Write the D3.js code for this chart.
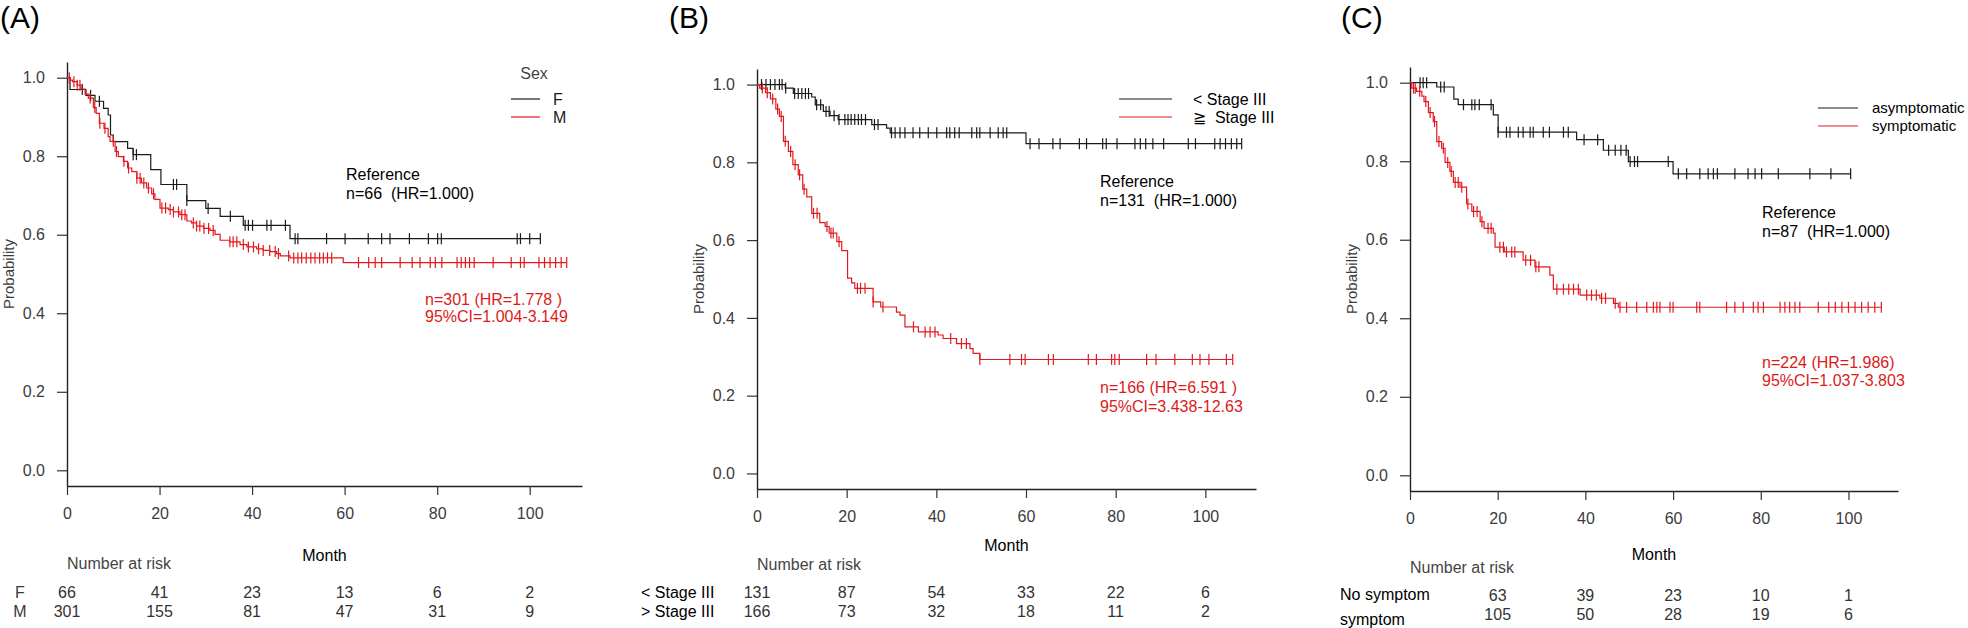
<!DOCTYPE html>
<html><head><meta charset="utf-8">
<script src="https://cdn.jsdelivr.net/npm/d3@7"></script>
<style>
body{margin:0;background:#fff}
svg text{font-family:"Liberation Sans",Arial,sans-serif}
</style></head><body>
<svg id="chart" width="1968" height="628"></svg>
<script>
// axis ticks
const monthTicks = [0, 20, 40, 60, 80, 100];
const probTicks = [0, 0.2, 0.4, 0.6, 0.8, 1.0];

// (A) Sex: step times (month), survival after step, censor times
const aF_time = [0, 0.65, 4.1, 6.05, 7.9, 8.9, 9.4, 10.0, 13.1, 14.3, 18.1, 20.3, 25.9, 30.0, 33.1, 38.1, 48.2];
const aF_surv = [1, 0.970, 0.955, 0.940, 0.922, 0.905, 0.854, 0.837, 0.820, 0.804, 0.766, 0.728, 0.687, 0.667, 0.647, 0.624, 0.590];
const aF_cens = [3.3, 5.1, 7, 14.3, 15, 23, 23.7, 25.9, 30.5, 35.3, 38.5, 39.2, 40.1, 43.2, 44.1, 47.2, 49.3, 49.9, 56.1, 60.1, 65.1, 68, 69.8, 74, 78.1, 80.1, 80.9, 97.3, 98, 100, 102.3];
const aM_time = [0, 0.7, 1.2, 2.2, 3.0, 3.9, 4.6, 5.7, 6.3, 7.0, 8.0, 8.9, 9.3, 10.4, 11.1, 12.2, 13.1, 14.0, 15.1, 16.1, 17.2, 18.3, 19.0,
  20.1, 21.9, 23.0, 24.4, 25.9, 26.9, 28.0, 29.5, 30.9, 32.0, 33.1, 35.2, 37.4, 38.9, 41.0, 42.4, 43.9, 45.3, 46.1, 48.2, 59.7];
const aM_surv = [1, 0.994, 0.990, 0.981, 0.971, 0.958, 0.948, 0.924, 0.909, 0.884, 0.871, 0.850, 0.838, 0.812, 0.799, 0.787, 0.770, 0.761, 0.744, 0.732, 0.719, 0.704, 0.690,
  0.668, 0.664, 0.658, 0.651, 0.635, 0.630, 0.622, 0.616, 0.611, 0.601, 0.586, 0.582, 0.575, 0.569, 0.564, 0.560, 0.557, 0.552, 0.546, 0.541, 0.529];
const aM_cens = [0.5, 1.5, 2.2, 2.8, 5, 6, 7.1, 8.2, 10, 10.7, 12.3, 13.3, 15.1, 15.8, 16.6, 17.6, 18.7, 20.5, 21.3, 22.3, 23, 24.1, 24.8, 25.5,
  27.3, 28, 28.7, 29.6, 30.6, 31.6, 35.2, 35.9, 36.7, 38.1, 39.2, 40.3, 41.4, 42.4, 43.8, 45, 45.7, 47.9, 49, 49.9, 50.7, 51.7, 52.7, 53.6,
  54.6, 55.4, 56.3, 57.2, 63, 65.2, 66.6, 68, 72, 74.6, 76.3, 78.5, 79.6, 81, 84.3, 85.2, 86.1, 87, 88, 92.1, 96, 98, 98.8, 102, 103.2,
  104.4, 105.6, 106.8, 108];
const aRiskTimes = [0, 20, 40, 60, 80, 100];
const aRiskLabels = ["F", "M"];
const aRiskF = [66, 41, 23, 13, 6, 2];
const aRiskM = [301, 155, 81, 47, 31, 9];
const aLegend = ["F", "M"];
const aRefText = ["Reference", "n=66  (HR=1.000)"];
const aHrText = ["n=301 (HR=1.778 )", "95%CI=1.004-3.149"];

// (B) Stage
const bLo_time = [0, 6.3, 8.1, 12.2, 13.0, 14.8, 16.3, 18.1, 25.6, 28.9, 29.7, 60.0];
const bLo_surv = [1, 0.991, 0.977, 0.968, 0.948, 0.931, 0.920, 0.910, 0.897, 0.888, 0.876, 0.848];
const bLo_cens = [1, 2, 3, 4, 5, 5.6, 6.4, 8.4, 9.2, 10, 10.8, 11.5, 13.3, 14.2, 15.4, 16.1, 17.2, 18.3, 19.6, 20.3, 21, 21.8, 22.6, 23.3,
  24.2, 26.2, 27, 30, 30.8, 31.9, 33, 34.8, 36.3, 38.2, 40.1, 42.3, 43, 44.1, 45.1, 47.9, 49, 49.7, 52, 53.8, 54.9, 55.7, 60.9, 62.9, 66,
  67.6, 71.9, 73.5, 77.1, 77.9, 80.3, 84.3, 85.5, 86.7, 88.3, 90.7, 96.2, 97.8, 102.1, 103.3, 104.5, 105.8, 107, 108.1];
const bHi_time = [0, 0.6, 1.9, 3.0, 4.2, 5.0, 5.9, 7.0, 8.0, 9.2, 10.2, 11.1, 12.2, 14.0, 15.2, 16.1, 17.8, 18.9, 20.2, 21.1, 21.8,
  25.9, 27.6, 31.1, 31.9, 33.0, 36.0, 40.4, 41.5, 44.5, 47.5, 48.2, 49.7];
const bHi_surv = [1, 0.991, 0.979, 0.963, 0.937, 0.918, 0.854, 0.828, 0.794, 0.768, 0.731, 0.711, 0.669, 0.645, 0.635, 0.618, 0.596, 0.573, 0.502, 0.490, 0.476,
  0.441, 0.428, 0.415, 0.407, 0.377, 0.364, 0.356, 0.347, 0.334, 0.321, 0.309, 0.293];
const bHi_cens = [1.2, 2.3, 3.5, 4.6, 5.4, 6.3, 7.5, 8.5, 9.5, 10.5, 12.6, 13.4, 15.6, 16.5, 17.0, 18.3, 22.4, 23.1, 24.1, 25.9, 28.1,
  34.9, 37.5, 38.6, 39.7, 43.2, 45.6, 46.7, 49.7, 56.4, 59, 59.8, 65, 66.1, 73.9, 75.7, 79.1, 79.8, 80.8, 86.9, 89, 93.2, 97.1, 98.8,
  100.8, 104.7, 106.1];
const bRiskTimes = [0, 20, 40, 60, 80, 100];
const bRiskLabels = ["< Stage III", "> Stage III"];
const bRiskLo = [131, 87, 54, 33, 22, 6];
const bRiskHi = [166, 73, 32, 18, 11, 2];
const bLegend = ["< Stage III", "\u2267  Stage III"];
const bRefText = ["Reference", "n=131  (HR=1.000)"];
const bHrText = ["n=166 (HR=6.591 )", "95%CI=3.438-12.63"];

// (C) Symptom
const cAs_time = [0, 6.1, 10.0, 11.0, 19.0, 20.1, 38.0, 44.1, 49.8, 60.0];
const cAs_surv = [1, 0.989, 0.958, 0.944, 0.918, 0.874, 0.855, 0.828, 0.799, 0.768];
const cAs_cens = [2.3, 3.0, 3.8, 7.0, 7.8, 12.2, 14.1, 14.8, 15.8, 18.5, 20.1, 22.0, 22.8, 24.7, 25.8, 27.4, 28.1, 30.4, 31.8, 35.0,
  36.1, 39.7, 42.8, 45.3, 46.8, 48.1, 49.3, 50.2, 51.2, 51.9, 58.9, 61.2, 63.1, 66.1, 68.0, 69.2, 70.1, 74.1, 77.1, 78.7, 80.2, 84.0,
  91.2, 96.0, 100.5];
const cSy_time = [0, 0.4, 1.5, 2.7, 3.2, 4.2, 5.3, 6.1, 7.2, 8.0, 9.1, 9.9, 11.4, 12.9, 14.1, 16.0, 16.9, 19.0, 19.4, 21.5, 25.8, 28.5,
  31.9, 32.7, 38.8, 43.3, 46.4, 47.5];
const cSy_surv = [1, 0.986, 0.978, 0.966, 0.952, 0.924, 0.901, 0.850, 0.833, 0.797, 0.774, 0.746, 0.734, 0.691, 0.672, 0.646, 0.629,
  0.617, 0.581, 0.569, 0.548, 0.531, 0.510, 0.474, 0.459, 0.451, 0.438, 0.428];
const cSy_cens = [0.8, 1.2, 2.2, 3.6, 4.6, 5.6, 6.6, 7.6, 8.6, 9.4, 10.3, 11.0, 11.8, 13.2, 14.5, 15.3, 16.4, 17.8, 18.5, 20.5, 21.3,
  22.0, 23.2, 23.9, 26.4, 27.5, 28.7, 29.4, 33.5, 35.0, 36.2, 37.3, 38.4, 40.3, 41.4, 42.5, 43.7, 44.6, 46.8, 47.9, 49.4, 51.7, 54,
  55.5, 56.3, 57, 59.3, 60, 65.4, 66.1, 72.2, 74.1, 76, 78.3, 79.4, 80.6, 84.4, 85.5, 86.6, 87.8, 88.9, 93.1, 95.5, 97, 98.5, 100,
  101.5, 103, 104.5, 106, 107.5];
const cRiskTimes = [20, 40, 60, 80, 100];
const cRiskLabels = ["No symptom", "symptom"];
const cRiskAs = [63, 39, 23, 10, 1];
const cRiskSy = [105, 50, 28, 19, 6];
const cLegend = ["asymptomatic", "symptomatic"];
const cRefText = ["Reference", "n=87  (HR=1.000)"];
const cHrText = ["n=224 (HR=1.986)", "95%CI=1.037-3.803"];

const BLACK = "#1a1a1a", RED = "#e2191f", RED_TXT = "#dc1a1a", GREY = "#3a3a3a";

const svg = d3.select("#chart");

function survAt(time, surv, t){
  const i = d3.bisectRight(time, t) - 1;
  return surv[Math.max(i, 0)];
}

const panels = [
  {title:"(A)", titleX:0, x0:67, x1:582, yTop:62, yBot:486, monthY:561, narY:569,
   curves:[{time:aF_time, surv:aF_surv, cens:aF_cens, color:BLACK},
           {time:aM_time, surv:aM_surv, cens:aM_cens, color:RED}],
   risk:{times:aRiskTimes, rows:[aRiskF, aRiskM], labels:aRiskLabels, rowY:[598, 617], labY:[598, 617],
         labX:20, labAnchor:"middle", labColor:GREY},
   legend:{title:"Sex", titleX:534, titleY:79, lx0:511, lx1:540, ly:[99, 117], tx:553, size:16, labels:aLegend, color:BLACK},
   ref:{x:346, y:[180, 199], text:aRefText}, hr:{x:425, y:[305, 322], text:aHrText}},
  {title:"(B)", titleX:669, x0:757, x1:1256, yTop:69, yBot:489, monthY:551, narY:570,
   curves:[{time:bLo_time, surv:bLo_surv, cens:bLo_cens, color:BLACK},
           {time:bHi_time, surv:bHi_surv, cens:bHi_cens, color:RED}],
   risk:{times:bRiskTimes, rows:[bRiskLo, bRiskHi], labels:bRiskLabels, rowY:[598, 617], labY:[598, 617],
         labX:641, labAnchor:"start", labColor:"#000"},
   legend:{lx0:1119, lx1:1172, ly:[99, 117], tx:1193, size:16, labels:bLegend, color:"#000"},
   ref:{x:1100, y:[187, 206], text:bRefText}, hr:{x:1100, y:[393, 412], text:bHrText}},
  {title:"(C)", titleX:1341, x0:1410, x1:1898, yTop:67, yBot:491, monthY:560, narY:573,
   curves:[{time:cAs_time, surv:cAs_surv, cens:cAs_cens, color:BLACK},
           {time:cSy_time, surv:cSy_surv, cens:cSy_cens, color:RED}],
   risk:{times:cRiskTimes, rows:[cRiskAs, cRiskSy], labels:cRiskLabels, rowY:[601, 620], labY:[600, 625],
         labX:1340, labAnchor:"start", labColor:"#000"},
   legend:{lx0:1818, lx1:1858, ly:[108, 126], tx:1872, size:15, labels:cLegend, color:"#000"},
   ref:{x:1762, y:[218, 237], text:cRefText}, hr:{x:1762, y:[368, 386], text:cHrText}}
];

panels.forEach(p => {
  const x = d3.scaleLinear().domain([0, 111.3]).range([p.x0, p.x1]);
  const y = d3.scaleLinear().domain([-0.04, 1.04]).range([p.yBot, p.yTop]);
  const g = svg.append("g");

  g.append("text").attr("x", p.titleX).attr("y", 28).attr("font-size", 30).attr("fill", "#000").text(p.title);

  // axes
  const xa = g.append("g").attr("transform", `translate(0,${p.yBot})`)
    .call(d3.axisBottom(x).tickValues(monthTicks).tickFormat(d3.format("d")).tickSize(9).tickSizeOuter(0).tickPadding(13));
  const ya = g.append("g").attr("transform", `translate(${p.x0},0)`)
    .call(d3.axisLeft(y).tickValues(probTicks).tickFormat(d3.format(".1f")).tickSize(10).tickSizeOuter(0).tickPadding(12));
  [xa, ya].forEach(a => {
    a.selectAll("path.domain").attr("stroke", "#222").attr("stroke-width", 1.4);
    a.selectAll(".tick line").attr("stroke", "#333").attr("stroke-width", 1.2);
    a.selectAll(".tick text").attr("font-size", 16).attr("fill", "#3c3c3c")
      .attr("font-family", "Liberation Sans, Arial, sans-serif");
  });

  g.append("text").attr("transform", `translate(${p.x0 - 53},${(p.yTop + p.yBot) / 2}) rotate(-90)`)
    .attr("text-anchor", "middle").attr("font-size", 15).attr("fill", "#3c3c3c").text("Probability");
  g.append("text").attr("x", (p.x0 + p.x1) / 2).attr("y", p.monthY).attr("text-anchor", "middle")
    .attr("font-size", 16).attr("fill", "#000").text("Month");

  // survival curves
  const line = d3.line().curve(d3.curveStepAfter).x(d => x(d[0])).y(d => y(d[1]));
  p.curves.forEach(c => {
    const pts = c.time.map((t, i) => [t, c.surv[i]]);
    pts.push([d3.max(c.cens), c.surv[c.surv.length - 1]]);
    g.append("path").attr("d", line(pts)).attr("fill", "none").attr("stroke", c.color).attr("stroke-width", 1.2);
    g.selectAll(null).data(c.cens).join("line")
      .attr("x1", t => x(t)).attr("x2", t => x(t))
      .attr("y1", t => y(survAt(c.time, c.surv, t)) - 5.5)
      .attr("y2", t => y(survAt(c.time, c.surv, t)) + 5.5)
      .attr("stroke", c.color).attr("stroke-width", 1.2);
  });

  // legend
  const L = p.legend;
  if (L.title) g.append("text").attr("x", L.titleX).attr("y", L.titleY).attr("text-anchor", "middle")
    .attr("font-size", 16).attr("fill", "#444").text(L.title);
  L.labels.forEach((lab, i) => {
    g.append("line").attr("x1", L.lx0).attr("x2", L.lx1).attr("y1", L.ly[i]).attr("y2", L.ly[i])
      .attr("stroke", i === 0 ? BLACK : RED).attr("stroke-width", 1.2);
    g.append("text").attr("x", L.tx).attr("y", L.ly[i] + L.size * 0.36).attr("font-size", L.size)
      .attr("fill", L.color).style("white-space", "pre").text(lab);
  });

  // annotations
  p.ref.text.forEach((s, i) => g.append("text").attr("x", p.ref.x).attr("y", p.ref.y[i]).attr("font-size", 16)
    .attr("fill", "#000").style("white-space", "pre").text(s));
  p.hr.text.forEach((s, i) => g.append("text").attr("x", p.hr.x).attr("y", p.hr.y[i]).attr("font-size", 16)
    .attr("fill", RED_TXT).style("white-space", "pre").text(s));

  // number at risk table
  g.append("text").attr("x", p.x0).attr("y", p.narY).attr("font-size", 16).attr("fill", "#444").text("Number at risk");
  const R = p.risk;
  R.rows.forEach((row, r) => {
    g.append("text").attr("x", R.labX).attr("y", R.labY[r]).attr("text-anchor", R.labAnchor)
      .attr("font-size", 16).attr("fill", R.labColor).text(R.labels[r]);
    g.selectAll(null).data(row).join("text")
      .attr("x", (d, i) => x(R.times[i])).attr("y", R.rowY[r]).attr("text-anchor", "middle")
      .attr("font-size", 16).attr("fill", "#333").text(d => d);
  });
});
</script>
</body></html>
